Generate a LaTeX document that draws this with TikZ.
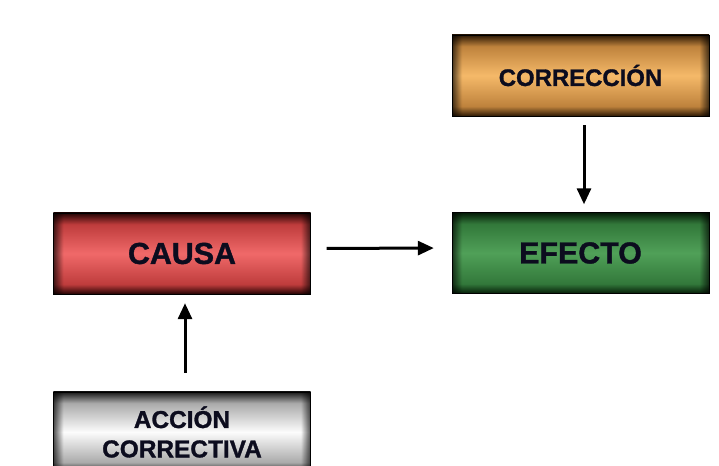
\documentclass[tikz,border=0pt]{standalone}
\usepackage{fontspec}
\setmainfont[BoldFeatures={FakeBold=1.2}]{Liberation Sans}
\usetikzlibrary{arrows.meta,fadings}

\definecolor{texto}{RGB}{12,12,30}

% vertical gradients: dark edge, light middle
\pgfdeclareverticalshading{rojo}{100bp}{color(0bp)=(rgb,255:red,35;green,3;blue,3);
  color(25bp)=(rgb,255:red,35;green,3;blue,3); color(31bp)=(rgb,255:red,190;green,60;blue,60);
  color(50bp)=(rgb,255:red,240;green,105;blue,105); color(68bp)=(rgb,255:red,190;green,60;blue,60);
  color(75bp)=(rgb,255:red,35;green,3;blue,3); color(100bp)=(rgb,255:red,35;green,3;blue,3)}
\pgfdeclareverticalshading{oro}{100bp}{color(0bp)=(rgb,255:red,45;green,25;blue,5);
  color(25bp)=(rgb,255:red,45;green,25;blue,5); color(31bp)=(rgb,255:red,190;green,130;blue,60);
  color(50bp)=(rgb,255:red,245;green,185;blue,105); color(68bp)=(rgb,255:red,190;green,130;blue,60);
  color(75bp)=(rgb,255:red,45;green,25;blue,5); color(100bp)=(rgb,255:red,45;green,25;blue,5)}
\pgfdeclareverticalshading{verde}{100bp}{color(0bp)=(rgb,255:red,5;green,28;blue,8);
  color(25bp)=(rgb,255:red,5;green,28;blue,8); color(31bp)=(rgb,255:red,50;green,120;blue,58);
  color(50bp)=(rgb,255:red,80;green,160;blue,88); color(68bp)=(rgb,255:red,50;green,120;blue,58);
  color(75bp)=(rgb,255:red,5;green,28;blue,8); color(100bp)=(rgb,255:red,5;green,28;blue,8)}
\pgfdeclareverticalshading{gris}{100bp}{color(0bp)=(rgb,255:red,25;green,25;blue,25);
  color(25bp)=(rgb,255:red,25;green,25;blue,25); color(31bp)=(rgb,255:red,170;green,170;blue,170);
  color(50bp)=(rgb,255:red,252;green,252;blue,252); color(68bp)=(rgb,255:red,170;green,170;blue,170);
  color(75bp)=(rgb,255:red,25;green,25;blue,25); color(100bp)=(rgb,255:red,25;green,25;blue,25)}
% darker left and right ends
\pgfdeclarehorizontalshading{bordesh}{100bp}{color(0bp)=(white);
  color(25bp)=(white); color(27bp)=(black); color(73bp)=(black);
  color(75bp)=(white); color(100bp)=(white)}
\tikzfading[name=bordes,shading=bordesh]

\begin{document}
\begin{tikzpicture}[x=1bp,y=1bp]

      \useasboundingbox (0,0) rectangle (719,466);

      \begin{scope}[every node/.style={draw=black,thin,inner sep=0pt,align=center,text=texto,
          minimum width=257bp,minimum height=81bp,
          postaction={fill=black,fill opacity=0.7,path fading=bordes}}]
        \node[shading=oro,font=\fontsize{24}{29}\selectfont\bfseries] (correccion) at (580.5,390.5) {\raisebox{-2bp}{CORRECCIÓN}};
        \node[shading=verde,font=\fontsize{30.5}{35}\selectfont\bfseries] (efecto) at (580.5,213) {\raisebox{-2.5bp}{EFECTO}};
        \node[shading=rojo,font=\fontsize{30.5}{35}\selectfont\bfseries] (causa) at (182,212.5) {\raisebox{-2.5bp}{CAUSA}};
        \node[shading=gris,minimum height=80bp,font=\fontsize{24.5}{29.5}\selectfont\bfseries]
          (accion) at (182,34) {ACCIÓN\\CORRECTIVA};
      \end{scope}

      \begin{scope}[every edge/.style={draw,line width=3bp,-{Triangle[length=16bp,width=14bp]}}]
        \path ([yshift=5bp]causa.east) edge[shorten <=16bp,shorten >=18bp] ([yshift=5bp]efecto.west);
        \path ([xshift=3.5bp]correccion.south) edge[shorten <=9bp,shorten >=8bp] ([xshift=3.5bp]efecto.north);
        \path ([xshift=3bp]accion.north) edge[shorten <=19bp,shorten >=9bp] ([xshift=3bp]causa.south);
      \end{scope}

    \end{tikzpicture}
\end{document}
